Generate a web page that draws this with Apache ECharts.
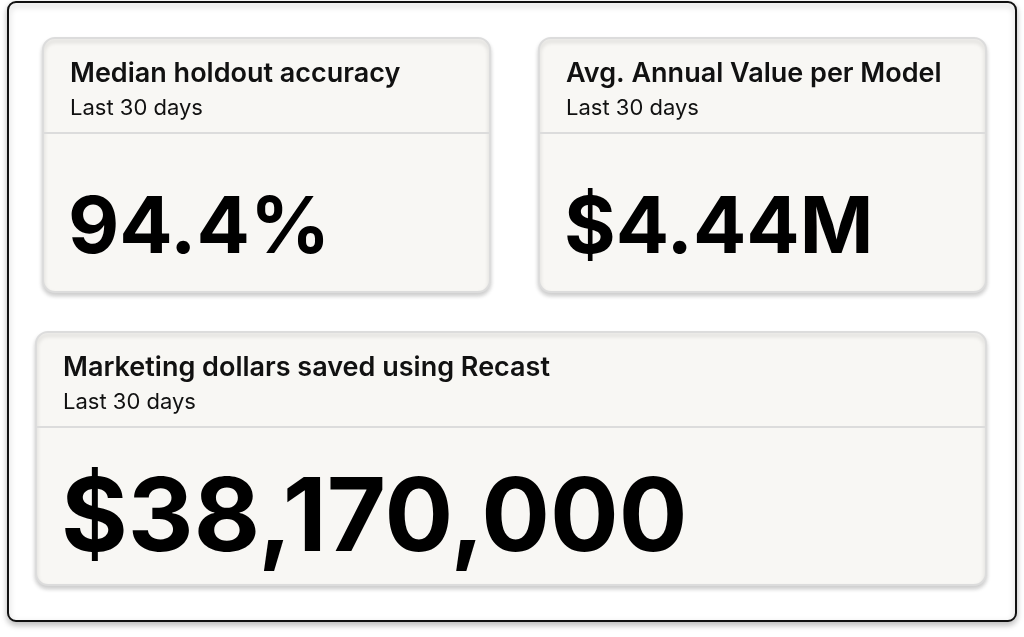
<!doctype html>
<html>
<head>
<meta charset="UTF-8">
<title>KPI cards</title>
<script src="https://cdn.jsdelivr.net/npm/echarts@6/dist/echarts.min.js"></script>
<style>
  html, body { margin: 0; padding: 0; background: #fff; }
  #chart { width: 1024px; height: 637px; }
</style>
</head>
<body>
<div id="chart"></div>
<script>
var cardTitles = ['Median holdout accuracy', 'Avg. Annual Value per Model', 'Marketing dollars saved using Recast'];
var cardSubtitles = ['Last 30 days', 'Last 30 days', 'Last 30 days'];
var cardValues = ['94.4%', '$4.44M', '$38,170,000'];

// card boxes: x, y, width, height, value font size
var boxes = [
  [43, 38, 447, 254, 79],
  [539, 38, 447, 254, 79],
  [36, 332, 950, 253, 102]
];

var font = 'Inter, "Noto Sans", sans-serif';
var elements = [];

// outer frame
elements.push({
  type: 'rect',
  shape: { x: 8, y: 2, width: 1008, height: 619, r: 8 },
  style: { fill: '#fff', stroke: '#111', lineWidth: 2, shadowBlur: 6, shadowOffsetY: 3, shadowColor: 'rgba(0,0,0,0.25)' }
});

for (var i = 0; i < boxes.length; i++) {
  var b = boxes[i];
  elements.push({
    type: 'rect',
    shape: { x: b[0], y: b[1], width: b[2], height: b[3], r: 12 },
    style: { fill: '#f8f7f4', stroke: '#dcdcdc', lineWidth: 2, shadowBlur: 4, shadowOffsetY: 3, shadowColor: 'rgba(0,0,0,0.18)' }
  });
  // header divider
  elements.push({
    type: 'line',
    shape: { x1: b[0] + 1, y1: b[1] + 95, x2: b[0] + b[2] - 1, y2: b[1] + 95 },
    style: { stroke: '#dcdcdc', lineWidth: 2 }
  });
  elements.push({
    type: 'text',
    x: b[0] + 27, y: b[1] + 36,
    style: { text: cardTitles[i], font: '600 27px ' + font, fill: '#111', textVerticalAlign: 'middle' }
  });
  elements.push({
    type: 'text',
    x: b[0] + 27, y: b[1] + 70,
    style: { text: cardSubtitles[i], font: '400 22px ' + font, fill: '#111', textVerticalAlign: 'middle' }
  });
  elements.push({
    type: 'text',
    x: b[0] + 25, y: b[1] + (i < 2 ? 191 : 188),
    style: { text: cardValues[i], font: '700 ' + b[4] + 'px ' + font, fill: '#000', textVerticalAlign: 'middle' }
  });
}

var chart = echarts.init(document.getElementById('chart'));
chart.setOption({ animation: false, graphic: { elements: elements } });
</script>
</body>
</html>
